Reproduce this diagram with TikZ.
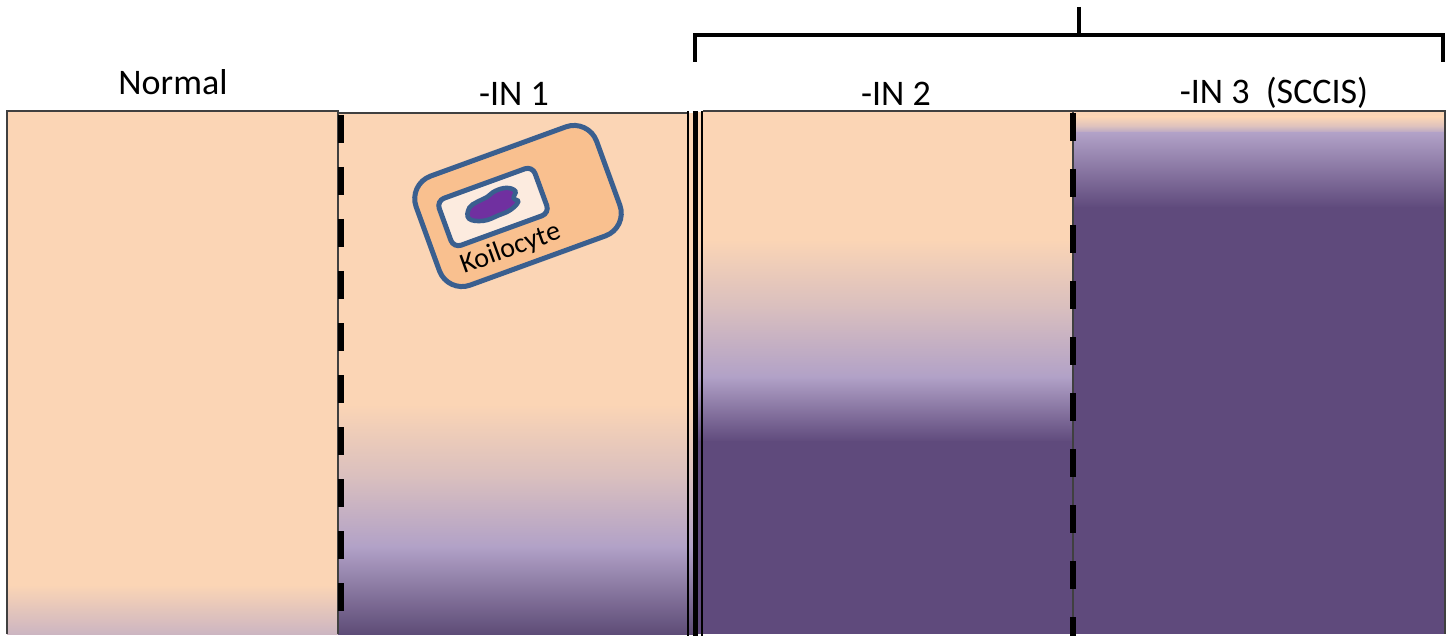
\documentclass[tikz,border=0pt]{standalone}
\usepackage{fontspec}
\setmainfont{Carlito}
\definecolor{peach}{HTML}{FBD5B5}
\definecolor{lav}{HTML}{B1A1C7}
\definecolor{deep}{HTML}{5F4A7C}
\definecolor{pinkish}{HTML}{D8BEBF}
\definecolor{cellfill}{HTML}{F9C08F}
\definecolor{cellline}{HTML}{3A5F8F}
\definecolor{vacuole}{HTML}{FCEBDF}
\definecolor{nucleus}{HTML}{7030A0}
\definecolor{edge}{HTML}{404040}
\tikzset{
  paneledge/.style={draw=edge, line width=1.2pt},
  basement/.style={line width=6pt, draw=black},
  bracketline/.style={line width=4pt, draw=black, line cap=butt},
  stagelabel/.style={font=\fontsize{36}{40}\selectfont, anchor=base},
  cellbody/.style={draw=cellline, fill=cellfill, line width=5pt, rounded corners=24pt, rotate=20},
  halo/.style={draw=cellline, fill=vacuole, line width=5pt, rounded corners=8pt, rotate=20},
}
\begin{document}
\begin{tikzpicture}[x=1pt,y=-1pt]
\useasboundingbox (0,0) rectangle (1450,636);
\fill[white] (0,0) rectangle (1450,636);

% Normal epithelium
\fill[peach] (7,112) rectangle (338,586);
\shade[top color=peach, bottom color=pinkish!70!lav] (7,585) rectangle (338,634);

% CIN 1
\fill[peach] (338,113) rectangle (695,405);
\shade[top color=peach, bottom color=pinkish] (338,404) rectangle (695,480);
\shade[top color=pinkish, bottom color=lav] (338,479) rectangle (695,548);
\shade[top color=lav, bottom color=deep!90!black!95] (338,547) rectangle (695,634);

% CIN 2
\fill[peach] (695,112) rectangle (1073,240);
\shade[top color=peach, bottom color=pinkish] (695,239) rectangle (1073,310);
\shade[top color=pinkish, bottom color=lav] (695,309) rectangle (1073,378);
\shade[top color=lav, bottom color=deep] (695,377) rectangle (1073,442);
\fill[deep] (695,441) rectangle (1073,634);

% CIN 3
\fill[peach] (1073,112) rectangle (1445,118);
\shade[top color=peach, bottom color=pinkish] (1073,117) rectangle (1445,128);
\shade[top color=pinkish, bottom color=lav] (1073,127) rectangle (1445,134);
\shade[top color=lav, bottom color=deep] (1073,133) rectangle (1445,208);
\fill[deep] (1073,207) rectangle (1445,634);

% panel outlines
\draw[paneledge] (7,634) -- (7,111) -- (338,111) -- (338,634);
\draw[paneledge] (338,113) -- (688,113);
\draw[paneledge] (703,111) -- (1445,111) -- (1445,634);
\draw[paneledge] (1073,111) -- (1073,634);

% basement membrane boundaries
\draw[basement, dash pattern=on 28pt off 24pt, dash phase=49pt] (341,112) -- (341,634);
\draw[basement, dash pattern=on 28pt off 28pt] (1073,113) -- (1073,636);

% break between panels
\draw[line width=2pt] (688,111) -- (688,636);
\draw[line width=5pt] (695,111) -- (695,636);
\draw[line width=2.5pt] (702,111) -- (702,636);

% bracket over high grade lesions
\coordinate (bl) at (695,62);
\coordinate (br) at (1443,62);
\coordinate (bt) at (1079,7);
\draw[bracketline] (bl) -- (695,35) -- (1443,35) -- (br);
\draw[bracketline] (bt) -- (1079,35);

% labels
\node[stagelabel] (lnormal) at (173,95) {Normal};
\node[stagelabel] (lin1) at (514,106) {-IN 1};
\node[stagelabel] (lin2) at (896,106) {-IN 2};
\node[stagelabel] (lin3) at (1274,104) {-IN 3~~(SCCIS)};

% koilocyte
\node[cellbody, minimum width=192pt, minimum height=116pt] (cell) at (518,206) {};
\node[halo, minimum width=102pt, minimum height=50pt] (vac) at (493,207) {};
\begin{scope}[shift={(492,206)}, rotate=20]
  \draw[draw=cellline, fill=nucleus, line width=4.5pt]
    plot[smooth cycle, tension=0.7] coordinates
    {(-26,4) (-22,-6) (-12,-9) (-2,-10) (8,-13) (20,-12) (27,-6) (23,0) (26,5) (16,10) (3,11) (-13,11)};
\end{scope}
\node[rotate=20, font=\fontsize{28}{30}\selectfont] (klabel) at (511,249) {Koilocyte};
\end{tikzpicture}
\end{document}
